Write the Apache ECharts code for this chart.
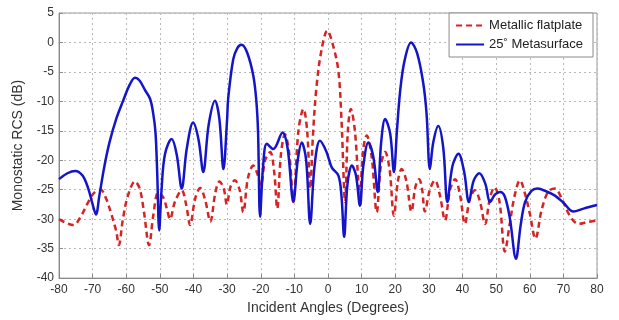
<!DOCTYPE html>
<html>
<head>
<meta charset="utf-8">
<script src="https://cdn.jsdelivr.net/npm/echarts@6/dist/echarts.min.js"></script>
<style>
  html, body { margin: 0; padding: 0; background: #fff; }
  #chart { width: 619px; height: 320px; }
</style>
</head>
<body>
<div id="chart"></div>
<script>
const seriesNames = ["Metallic flatplate", "25\u02DA Metasurface"];

// Metallic flatplate (red dashed): angle (deg), RCS (dB)
const flatAngles = [
  -80, -78, -75.7, -73.5, -71.3, -69.5, -67.6, -66, -64.5, -63, -62.2, -61, -59.5, -57.4, -56,
  -54.8, -53.2, -52, -50.5, -49, -47.8, -47, -45.5, -43.5, -42.2, -41, -39.5, -38, -36.5,
  -35, -33.5, -32.3, -31, -30.1, -29, -27.7, -26.3, -25.2, -23.8, -22.2, -21, -20, -18.7,
  -17.2, -16, -15.1, -14, -12.8, -11.5, -10.3, -8.8, -7.3, -6.2, -5.3, -4.5, -3.5, -2,
  -0.2, 1.5, 3.1, 4, 5.1, 5.9, 6.8, 8, 9.5, 10.4, 11.5, 13, 14.5, 15.7, 17, 18.3, 19.6,
  20.8, 21.9, 23.3, 24.8, 26, 27.1, 28, 28.8, 30.3, 31.8, 33.3, 34.8, 36.3, 37.8, 39.3,
  40.7, 42.2, 43.7, 45.2, 46.7, 48.2, 49.5, 51, 52.6, 54, 55.5, 57.1, 58.5, 60, 61.7,
  63.5, 65.5, 67.5, 69.5, 72, 74.5, 77, 80
];
const flatRcs = [
  -30, -30.6, -31, -29.5, -27.1, -25.5, -25, -26.5, -29, -32, -34.4, -30, -26, -23.6, -24.8,
  -28.5, -34.4, -29.5, -25.5, -26.3, -28.5, -30, -27, -25.1, -27.5, -31, -26.5, -24.7, -26.8,
  -30.4, -25.5, -23.6, -24.8, -27.5, -24.5, -23.4, -25, -28.8, -23, -20.9, -22.3, -24.3, -20,
  -18.6, -22, -28.2, -19, -15.6, -19, -27.1, -15, -11.3, -15, -24.8, -16, -8, -1.5,
  2, -0.5, -4.9, -13, -27.1, -15, -11.3, -15, -26, -18.5, -15.8, -19.5, -28.8, -21, -18.6, -21.5, -29.4,
  -23.5, -21.5, -23.5, -28.7, -24.5, -23.2, -25, -28.7, -25, -23.4, -26, -30.2, -25, -23.2, -26,
  -30.8, -26.5, -25.1, -27, -30.8, -26.3, -24.6, -27, -35.5, -31, -26, -23.4, -25.5, -29, -33.3,
  -28.5, -25.3, -24.8, -26.5, -29.5, -30.8, -30.5, -30.2
];

// 25 deg metasurface (blue solid): angle (deg), RCS (dB)
const metaAngles = [
  -80, -77.5, -75.2, -73, -71.3, -70, -69, -68, -66.5, -65, -63, -61, -59, -57.4, -56, -54.5,
  -52.9, -52, -51.3, -50.8, -50.2, -49.5, -48.5, -46.5, -45, -43.5, -42, -40.1, -38.5,
  -37.1, -35.5, -33.6, -32.3, -31.1, -30, -29.7, -28.2, -27, -25.7, -24, -22.2, -21.3,
  -20.8, -20.2, -19.3, -18.2, -16.3, -13.5, -12, -10.3, -9, -7.8, -6.5, -5.3, -4, -2.4,
  -0.5, 1.1, 3.1, 4, 4.8, 5.8, 7.1, 8.3, 9.5, 10.5, 12, 13.5, 14.8, 15.8, 17, 18.5, 19.6,
  20.5, 21.5, 22.8, 24.7, 26.5, 28.3, 29.3, 30.3, 31.3, 32.8, 34.3, 35.5, 37, 38.8, 40.5,
  41.9, 43.3, 45, 46.8, 48.2, 49.7, 51.2, 52.6, 54.1, 55.9, 57.3, 58.6, 60.5, 62.3, 65,
  67.5, 70, 73, 76, 80
];
const metaRcs = [
  -23.2, -22.2, -21.8, -22.6, -24.8, -27.5, -29.2, -26, -21, -17, -13, -10, -7.2, -6, -6.5, -8,
  -9.6, -12, -15.3, -22, -31.9, -25, -19, -16.4, -19, -24.8, -18, -13.6, -16.5,
  -22, -14, -9.9, -13, -21.5, -13, -9.6, -2.9, -1, -0.4, -1.8, -5.7, -10,
  -15.2, -29.6, -21, -17.2, -18.1, -15.3, -18, -27, -20, -17, -20, -30.8, -21, -16.7,
  -18.5, -21.2, -22.6, -26, -33, -24, -20.9, -22.5, -27.7, -21, -17, -19.5, -25.4, -17, -13, -15.5, -22,
  -15, -8, -3, 0, -1.8, -6.8, -12, -21.5, -17, -14.2, -18, -27.1, -21, -18.9, -22,
  -27.1, -23.5, -22.2, -24, -27.1, -25.8, -25.4, -26.2, -29.9, -36.7, -31, -27.1, -25.2, -24.8, -25.3,
  -26, -27.2, -28.7, -28.2, -27.6
];

const xTicks = { min: -80, max: 80, interval: 10 };
const yTicks = { min: -40, max: 5, interval: 5 };

const font = "Liberation Sans, Arial, sans-serif";
const pairs = (xs, ys) => xs.map((x, i) => [x, ys[i]]);

const chart = echarts.init(document.getElementById("chart"));

const gridLine = {
  show: true,
  lineStyle: { color: "#b8b8b8", type: [2, 3], width: 1 },
};

chart.setOption({
  animation: false,
  textStyle: { fontFamily: font },
  grid: {
    left: 59,
    right: 22,
    top: 13,
    bottom: 41,
    show: true,
    borderColor: "#9a9a9a",
    borderWidth: 1,
  },
  legend: {
    orient: "vertical",
    right: 26,
    top: 13,
    itemWidth: 28,
    itemHeight: 10,
    itemGap: 6,
    padding: [6, 10, 6, 6],
    backgroundColor: "#fff",
    borderColor: "#8a8a8a",
    borderWidth: 1,
    borderRadius: 0,
    itemStyle: { opacity: 0 },
    textStyle: { fontSize: 13, color: "#222", fontFamily: font },
    data: seriesNames,
  },
  xAxis: {
    type: "value",
    min: xTicks.min,
    max: xTicks.max,
    interval: xTicks.interval,
    name: "Incident Angles (Degrees)",
    nameLocation: "middle",
    nameGap: 22,
    nameTextStyle: { fontSize: 14, color: "#333" },
    axisLine: { show: true, onZero: false, lineStyle: { color: "#8a8a8a" } },
    axisTick: { show: true, inside: true, length: 4, lineStyle: { color: "#8a8a8a" } },
    axisLabel: { fontSize: 12, color: "#333", margin: 6 },
    splitLine: gridLine,
  },
  yAxis: {
    type: "value",
    min: yTicks.min,
    max: yTicks.max,
    interval: yTicks.interval,
    name: "Monostatic RCS (dB)",
    nameLocation: "middle",
    nameGap: 34,
    nameTextStyle: { fontSize: 14, color: "#333" },
    axisLine: { show: true, onZero: false, lineStyle: { color: "#8a8a8a" } },
    axisTick: { show: true, inside: true, length: 4, lineStyle: { color: "#8a8a8a" } },
    axisLabel: { fontSize: 12, color: "#333", margin: 5 },
    splitLine: gridLine,
  },
  series: [
    {
      name: seriesNames[0],
      type: "line",
      data: pairs(flatAngles, flatRcs),
      showSymbol: false,
      symbol: "none",
      smooth: 0.35,
      lineStyle: { color: "#d42424", width: 2.5, type: [6, 4] },
      itemStyle: { color: "#d42424" },
      z: 2,
    },
    {
      name: seriesNames[1],
      type: "line",
      data: pairs(metaAngles, metaRcs),
      showSymbol: false,
      symbol: "none",
      smooth: 0.35,
      lineStyle: { color: "#1414c8", width: 2.5 },
      itemStyle: { color: "#1414c8" },
      z: 3,
    },
  ],
});
</script>
</body>
</html>
